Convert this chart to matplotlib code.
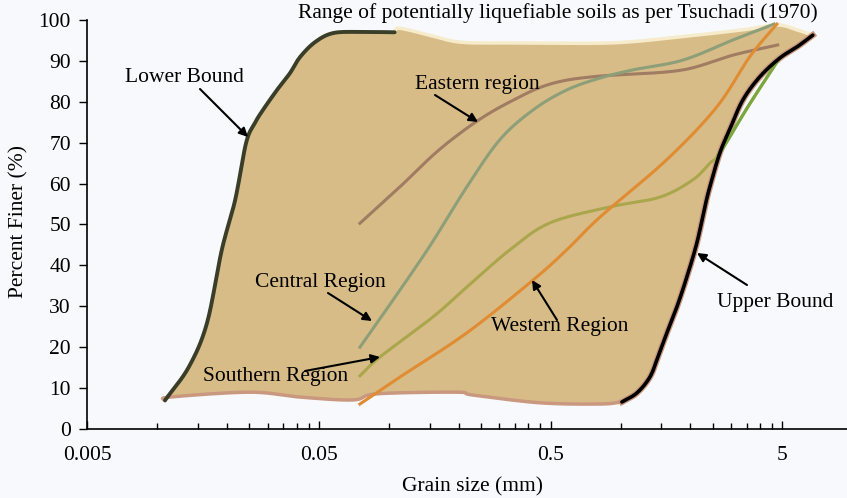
import matplotlib.pyplot as plt
import numpy as np
from matplotlib.ticker import FixedLocator, NullFormatter

# grain size (mm) / percent finer
lower_x = [0.0108, 0.0137, 0.0164, 0.019, 0.0217, 0.0242, 0.0264, 0.0286, 0.0329, 0.0374, 0.0413, 0.048, 0.0574, 0.075, 0.106]
lower_y = [7.0, 15.2, 25.9, 43.8, 56.0, 70.0, 74.8, 78.0, 82.9, 87.0, 90.9, 94.6, 96.8, 97.1, 97.0]

upper_x = [1.014, 1.176, 1.339, 1.45, 1.585, 1.75, 1.934, 2.136, 2.312, 2.43, 2.684, 2.964, 3.37, 3.99, 4.87, 5.77, 6.76]
upper_y = [6.6, 8.8, 12.7, 17.6, 23.5, 29.8, 37.2, 45.5, 54.3, 59.2, 67.5, 73.3, 80.4, 86.1, 90.7, 93.4, 96.3]

top_x = [0.106, 0.111, 0.150, 0.203, 0.325, 0.9, 1.75, 3.37, 4.73, 5.77, 6.76]
top_y = [97.0, 98.0, 96.3, 94.6, 94.4, 94.4, 95.8, 97.6, 98.8, 97.6, 96.3]

bottom_x = [0.0108, 0.01135, 0.0251, 0.0413, 0.07, 0.0887, 0.197, 0.23, 0.449, 0.815, 1.014]
bottom_y = [7.0, 7.8, 9.0, 7.8, 7.1, 8.6, 9.0, 8.3, 6.4, 6.1, 6.6]

east_x = [0.075, 0.1116, 0.1554, 0.2027, 0.2642, 0.3441, 0.449, 0.585, 0.815, 0.993, 1.86, 3.05, 4.77]
east_y = [50.3, 59.2, 67.0, 72.3, 76.8, 80.4, 83.5, 85.3, 86.3, 86.6, 87.8, 91.4, 93.9]

central_x = [0.075, 0.0943, 0.1474, 0.217, 0.301, 0.419, 0.586, 0.815, 1.13, 1.86, 3.05, 4.6]
central_y = [20.0, 28.0, 44.0, 59.2, 70.7, 78.0, 82.9, 85.8, 87.8, 90.2, 95.1, 99.0]

south_x = [0.075, 0.0915, 0.155, 0.217, 0.333, 0.496, 0.9, 1.48, 2.05, 2.43, 2.684, 3.54, 4.73]
south_y = [13.0, 17.6, 27.4, 34.7, 43.8, 50.4, 54.3, 56.7, 60.9, 65.0, 67.5, 78.7, 89.7]

west_x = [0.075, 0.1116, 0.217, 0.419, 0.586, 0.815, 1.58, 2.6, 3.61, 4.73]
west_y = [6.1, 12.7, 23.5, 36.4, 43.8, 51.8, 65.8, 78.7, 91.0, 99.0]


def smooth(xs, ys, n=16):
    # catmull-rom through the read points, in log-x space
    P = np.column_stack([np.log10(xs), ys])
    P = np.vstack([2 * P[0] - P[1], P, 2 * P[-1] - P[-2]])
    t = np.linspace(0, 1, n, endpoint=False)[:, None]
    out = []
    for i in range(1, len(P) - 2):
        p0, p1, p2, p3 = P[i - 1], P[i], P[i + 1], P[i + 2]
        out.append(0.5 * (2 * p1 + (-p0 + p2) * t + (2 * p0 - 5 * p1 + 4 * p2 - p3) * t ** 2
                          + (-p0 + 3 * p1 - 3 * p2 + p3) * t ** 3))
    out.append(P[-2][None])
    a = np.vstack(out)
    return 10 ** a[:, 0], a[:, 1]


bg = '#f7f9fc'
plt.rcParams['font.family'] = ['Liberation Serif', 'DejaVu Serif']
fs = 15.5

fig = plt.figure(figsize=(8.47, 4.98), dpi=100, facecolor=bg)
ax = fig.add_axes([0.1033, 0.1386, 0.8967, 0.8212], facecolor=bg)

lx, ly = smooth(lower_x, lower_y)
ux, uy = smooth(upper_x, upper_y)
tx, ty = smooth(top_x, top_y)
bx, by = smooth(bottom_x, bottom_y)

# shaded range
ax.fill(np.r_[lx, tx, ux[::-1], bx[::-1]], np.r_[ly, ty, uy[::-1], by[::-1]],
        color='#d8bc88', zorder=1)
ax.plot(tx, ty, color='#f6eccc', lw=2.5, zorder=2)
ax.plot(bx, by, color='#c9987e', lw=2.5, zorder=2)
ax.plot(ux, uy, color='#c9987e', lw=4.5, zorder=2)

ax.plot(*smooth(east_x, east_y), color='#a07c62', lw=2.2, zorder=3)
ax.plot(*smooth(central_x, central_y), color='#8c9f78', lw=2.2, zorder=3)
sx, sy = smooth(south_x, south_y)
ax.plot(sx, sy, color='#aaa64c', lw=2.2, zorder=3)
ax.plot(sx[sx >= 2.65], sy[sx >= 2.65], color='#7aa83e', lw=2.2, zorder=4)
ax.plot(*smooth(west_x, west_y), color='#e08c32', lw=2.2, zorder=3)

ax.plot(lx, ly, color='#3a3e28', lw=2.8, zorder=5, solid_capstyle='round')
ax.plot(ux, uy, color='black', lw=2.6, zorder=5, solid_capstyle='round')

ax.set_xscale('log')
ax.set_xlim(0.005, 9.5)
ax.set_ylim(0, 100)

major = [0.005, 0.05, 0.5, 5]
minor = [k * d for d in major for k in range(2, 10)]
ax.xaxis.set_major_locator(FixedLocator(major))
ax.xaxis.set_minor_locator(FixedLocator(minor))
ax.set_xticklabels(['0.005', '0.05', '0.5', '5'])
ax.xaxis.set_minor_formatter(NullFormatter())
ax.set_yticks(range(0, 101, 10))

ax.tick_params(axis='x', which='major', direction='in', length=6, width=1, labelsize=fs, pad=12)
ax.tick_params(axis='x', which='minor', direction='in', length=4, width=1)
ax.tick_params(axis='y', direction='out', length=6, width=1, labelsize=fs, pad=6)

for s in ['top', 'right']:
    ax.spines[s].set_visible(False)
ax.spines['left'].set_linewidth(1.2)
ax.spines['bottom'].set_linewidth(1.2)


def px(x, y):
    return (x / 847, 1 - y / 498)


fig.text(*px(472, 487), 'Grain size (mm)', fontsize=fs, ha='center', va='center')
fig.text(*px(19, 222), 'Percent Finer (%)', fontsize=fs, ha='center', va='center', rotation=90)
fig.text(*px(558, 13), 'Range of potentially liquefiable soils as per Tsuchadi (1970)',
         fontsize=fs, ha='center', va='center')

arrow = dict(arrowstyle='-|>', color='black', lw=1.5, mutation_scale=13, shrinkA=0, shrinkB=0)


def note(txt, tpos, start, end):
    fig.text(*px(*tpos), txt, fontsize=fs, ha='center', va='center')
    ax.annotate('', xy=px(*end), xytext=px(*start), xycoords='figure fraction',
                textcoords='figure fraction', arrowprops=arrow, zorder=6)


note('Lower Bound', (184, 77), (200, 89), (248, 137))
note('Eastern region', (477, 85), (435, 95), (478, 122))
note('Central Region', (320, 283), (328, 293), (372, 321))
note('Southern Region', (276, 376), (305, 371), (380, 357))
note('Western Region', (560, 326), (557, 320), (532, 280))
note('Upper Bound', (775, 303), (747, 285), (697, 253))

fig.savefig('out.png', dpi=100, facecolor=bg)
